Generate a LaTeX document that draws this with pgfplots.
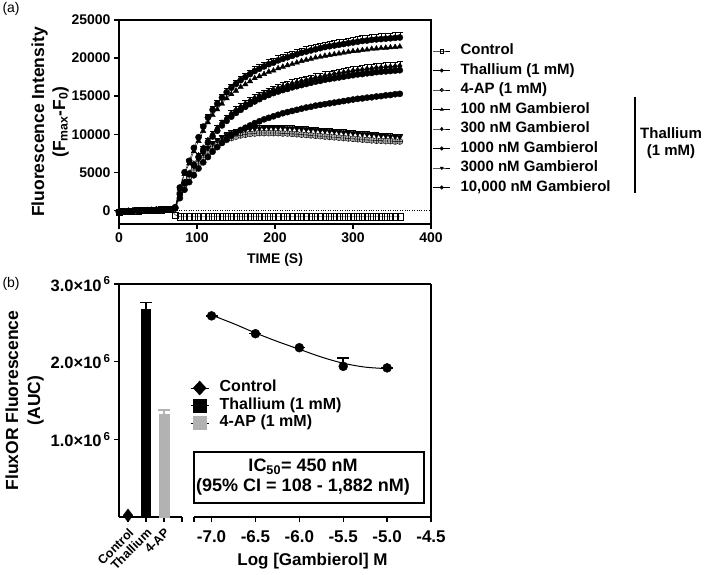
\documentclass[border=0pt]{standalone}
\usepackage{fontspec}
\setmainfont{Liberation Sans}
\usepackage{pgfplots}
\usepackage{pgfplotstable}
\pgfplotsset{compat=1.18}

% time course, panel (a)
\pgfplotstableread{
t   K     A      G      B      C      D      F      E
0   -200  -200   -200   -200   -200   -200   -200   -200
6   -150  -150   -150   -150   -150   -150   -150   -150
12  -100  -100   -100   -100   -100   -100   -100   -100
18  -80   -80    -80    -80    -80    -80    -80    -80
24  -50   -50    -50    -50    -50    -50    -50    -50
30  -30   -30    -30    -30    -30    -30    -30    -30
36  0     0      0      0      0      0      0      0
42  20    20     20     20     20     20     20     20
48  50    50     50     50     50     50     50     50
54  80    80     80     80     80     80     80     80
60  100   100    100    100    100    100    100    100
66  120   120    120    120    120    120    120    120
72  -600  400    300    380    300    290    350    250
78  -850  3000   2300   2850   2200   2100   2600   1600
84  -850  5000   3400   4750   3700   3550   3800   2700
90  -850  6500   4400   6150   4900   4750   4800   3700
96  -850  8200   5300   7750   6100   5900   5800   4600
102 -850  9600   6100   9100   7200   7000   6700   5500
108 -850  11000  6900   10400  8200   7950   7500   6300
114 -850  12200  7500   11550  9200   8900   8200   7000
120 -850  13200  8100   12500  10000  9700   8800   7700
126 -850  14000  8550   13250  10800  10450  9200   8300
132 -850  14800  8950   14000  11500  11150  9600   8850
138 -850  15500  9250   14700  12100  11750  9900   9350
144 -850  16100  9500   15250  12700  12300  10150  9800
150 -850  16600  9700   15700  13200  12800  10350  10200
156 -850  17100  9850   16200  13600  13200  10500  10550
162 -850  17500  9950   16550  14000  13600  10600  10850
168 -850  17900  10050  16950  14400  13950  10700  11150
174 -850  18300  10100  17350  14750  14300  10750  11450
180 -850  18600  10150  17600  15050  14600  10800  11700
186 -850  18900  10150  17900  15350  14900  10850  11950
192 -850  19200  10150  18200  15600  15150  10850  12150
198 -850  19400  10150  18350  15850  15400  10850  12350
204 -850  19700  10150  18650  16050  15600  10850  12550
210 -850  19900  10100  18850  16250  15800  10850  12750
216 -850  20100  10100  19050  16450  15950  10800  12900
222 -850  20300  10050  19200  16650  16150  10800  13050
228 -850  20500  10000  19400  16800  16300  10750  13200
234 -850  20700  9950   19600  16950  16450  10700  13350
240 -850  20850  9900   19750  17100  16600  10650  13500
246 -850  21000  9850   19900  17250  16750  10600  13600
252 -850  21150  9800   20050  17400  16900  10550  13750
258 -850  21300  9750   20150  17500  17000  10500  13850
264 -850  21450  9700   20300  17650  17150  10450  13950
270 -850  21550  9650   20400  17750  17250  10400  14050
276 -850  21650  9600   20500  17900  17350  10350  14150
282 -850  21750  9550   20600  18000  17450  10300  14250
288 -850  21850  9500   20700  18100  17550  10250  14350
294 -850  21950  9450   20800  18200  17650  10200  14450
300 -850  22050  9400   20900  18300  17750  10150  14550
306 -850  22150  9350   20950  18400  17850  10100  14650
312 -850  22250  9300   21050  18450  17900  10050  14700
318 -850  22300  9250   21100  18550  18000  10000  14800
324 -850  22400  9200   21200  18600  18050  9950   14850
330 -850  22450  9150   21250  18700  18150  9900   14950
336 -850  22500  9150   21300  18750  18200  9850   15000
342 -850  22550  9100   21350  18800  18250  9800   15100
348 -850  22600  9100   21400  18850  18300  9750   15150
354 -850  22650  9050   21450  18900  18350  9700   15250
360 -850  22700  9050   21500  18950  18400  9650   15300
}\timecourse

\newcommand{\bfs}[1]{\bfseries\fontsize{#1}{#1}\selectfont}

\pgfplotsset{
  common/.style={
    scale only axis,
    axis line style={line width=1.3pt},
    every tick/.style={black, line width=1.3pt},
    major tick length=5pt,
    tick align=outside,
    /pgf/number format/assume math mode=true,
    /pgf/number format/1000 sep={},
  },
  curve/.style={black, line width=0.4pt, mark size=3.1pt},
  errs/.style={error bars/.cd, y dir=plus, y fixed relative=0.03,
    error bar style={line width=0.6pt},
    error mark options={rotate=90, mark size=3pt, line width=0.9pt}},
}

\begin{document}
\begin{tikzpicture}
\useasboundingbox (0pt,0pt) rectangle (705pt,-574pt);

\node[anchor=west, font=\fontsize{14}{14}\selectfont] at (-1pt,-9pt) {(a)};
\node[anchor=west, font=\fontsize{14}{14}\selectfont] at (-1pt,-284pt) {(b)};

% ---------------- panel (a)
\begin{axis}[common,
  at={(119pt,-224pt)}, anchor=south west,
  width=312pt, height=204pt,
  xmin=0, xmax=400, ymin=-1800, ymax=25000,
  xtick={0,100,200,300,400},
  ytick={0,5000,10000,15000,20000,25000},
  scaled y ticks=false,
  tick pos=left,
  ticklabel style={font=\bfs{14}},
  xlabel={TIME (S)},
  xlabel style={font=\bfs{14}},
  xlabel shift=4pt,
  ylabel={Fluorescence Intensity\\(F\textsubscript{max}-F\textsubscript{0})},
  ylabel style={align=center, font=\bfseries\fontsize{17.5}{21}\selectfont},
  ylabel shift=-4pt,
  legend cell align=left,
  legend style={at={(axis description cs:1.006,0.892)}, anchor=north west,
    draw=none, fill=none, inner sep=0pt, row sep=2pt,
    font=\bfs{15},
    nodes={inner sep=2pt, text height=10.5pt, text depth=3pt},
    /tikz/every odd column/.append style={column sep=8pt}},
  legend image post style={mark size=1.8pt},
]
\addplot[black, dotted, thin, forget plot] coordinates {(0,0) (400,0)};
\addplot[curve, mark=square, mark options={fill=white}] table[x=t, y=K] {\timecourse};
\addplot[curve, mark=*, errs] table[x=t, y=A] {\timecourse};
\addplot[curve, mark=oplus*, mark options={fill=gray!60}] table[x=t, y=G] {\timecourse};
\addplot[curve, mark=triangle*] table[x=t, y=B] {\timecourse};
\addplot[curve, mark=diamond*, errs] table[x=t, y=C] {\timecourse};
\addplot[curve, mark=*] table[x=t, y=D] {\timecourse};
\addplot[curve, mark=triangle*, mark options={rotate=180}, errs] table[x=t, y=F] {\timecourse};
\addplot[curve, mark=*] table[x=t, y=E] {\timecourse};
\legend{Control, Thallium (1 mM), 4-AP (1 mM), 100 nM Gambierol, 300 nM Gambierol,
  1000 nM Gambierol, 3000 nM Gambierol, {10,000 nM Gambierol}}
\end{axis}

\draw[line width=1.3pt] (635pt,-97pt) -- (635pt,-193pt);
\node[font=\bfs{15}] at (671pt,-133pt) {Thallium};
\node[font=\bfs{15}] at (671pt,-152pt) {(1 mM)};

% ---------------- panel (b), controls
\begin{axis}[common,
  at={(119pt,-517pt)}, anchor=south west,
  width=63pt, height=233pt,
  xmin=-0.5, xmax=3, ymin=0, ymax=3000000,
  axis x line*=bottom, axis y line*=left,
  xtick={0,1,2,3}, xticklabels={Control,Thallium,4-AP,{}},
  xticklabel style={rotate=45, anchor=north east, inner sep=1pt, font=\bfs{12.5}},
  xticklabel shift=4pt,
  ytick={1000000,2000000,3000000},
  yticklabels={1.0×10\textsuperscript{\,6},2.0×10\textsuperscript{\,6},3.0×10\textsuperscript{\,6}},
  yticklabel style={font=\bfs{16.5}},
  scaled y ticks=false,
  ylabel={FluxOR Fluorescence\\(AUC)},
  ylabel style={align=center, font=\bfseries\fontsize{17.5}{22}\selectfont},
  clip=false,
]
\addplot[ybar, bar width=9pt, fill=black, draw=black,
  error bars/.cd, y dir=plus, y explicit,
  error bar style={line width=1.5pt, black},
  error mark options={rotate=90, mark size=6pt, line width=1.5pt, black}]
  coordinates {(1,2670000) +- (0,90000)};
\addplot[ybar, bar width=10pt, fill=gray!60, draw=gray!60,
  error bars/.cd, y dir=plus, y explicit,
  error bar style={line width=1.5pt, gray!60},
  error mark options={rotate=90, mark size=6pt, line width=1.5pt, gray!60}]
  coordinates {(2,1330000) +- (0,50000)};
\addplot[only marks, mark=diamond*, mark size=6.5pt, black] coordinates {(0,20000)};
\end{axis}

% ---------------- panel (b), dose response
\begin{axis}[common,
  at={(194pt,-517pt)}, anchor=south west,
  width=237pt, height=233pt,
  xmin=-7.2, xmax=-4.5, ymin=0, ymax=3000000,
  axis x line*=bottom, axis y line*=right,
  ytick=\empty,
  xtick={-7,-6.5,-6,-5.5,-5,-4.5},
  extra x ticks={-7.2}, extra x tick labels={},
  xticklabel style={/pgf/number format/.cd, fixed, fixed zerofill, precision=1,
    /tikz/font=\bfs{17}},
  xticklabel shift=5pt,
  xlabel={Log [Gambierol] M},
  xlabel style={font=\bfs{17}, at={(axis description cs:0.5,-0.19)}, anchor=center},
  clip=false,
  legend cell align=left,
  legend style={at={(axis description cs:-0.017,0.592)}, anchor=north west,
    draw=none, fill=none, inner sep=0pt, row sep=0pt,
    font=\bfs{16},
    nodes={inner sep=1.5pt, text height=11pt, text depth=3.5pt},
    /tikz/every odd column/.append style={column sep=9pt}},
]
\addlegendimage{legend image code/.code={
  \path (0pt,0pt) -- (18pt,0pt);
  \fill[black] (2.5pt,0pt) -- (9pt,7pt) -- (15.5pt,0pt) -- (9pt,-7pt) -- cycle;}}
\addlegendimage{legend image code/.code={
  \fill[black] (2.5pt,-6.5pt) rectangle (15.5pt,6.5pt);
  \draw[black, line width=1pt] (0pt,0pt) -- (18pt,0pt);}}
\addlegendimage{legend image code/.code={
  \path (0pt,0pt) -- (18pt,0pt);
  \fill[gray!60] (2.5pt,-6.5pt) rectangle (15.5pt,6.5pt);}}
\addplot[black, line width=1pt, smooth, forget plot] coordinates {
  (-7.0,2600000) (-6.75,2490000) (-6.5,2370000) (-6.25,2260000) (-6.0,2160000)
  (-5.75,2060000) (-5.5,1980000) (-5.25,1930000) (-5.0,1910000)};
\addplot[only marks, mark=*, mark size=4.5pt, black, forget plot,
  error bars/.cd, y dir=plus, y explicit,
  error bar style={line width=1.5pt},
  error mark options={rotate=90, mark size=6pt, line width=1.5pt}]
  coordinates {(-7.0,2590000) +- (0,0) (-6.5,2360000) +- (0,0) (-6.0,2180000) +- (0,0)
    (-5.5,1940000) +- (0,110000) (-5.0,1920000) +- (0,0)};
\legend{Control, Thallium (1 mM), 4-AP (1 mM)}
\node[draw, line width=1.6pt, minimum width=230pt, minimum height=51pt, inner sep=0pt]
  at (axis description cs:0.485,0.17) {};
\node[align=center, inner sep=0pt, font=\bfseries\fontsize{18}{20}\selectfont]
  at (axis description cs:0.46,0.17)
  {IC\textsubscript{50}= 450 nM\\(95\% CI = 108 - 1,882 nM)};
\end{axis}

\draw[line width=1.3pt] (119pt,-284pt) -- (431pt,-284pt);
\end{tikzpicture}
\end{document}
